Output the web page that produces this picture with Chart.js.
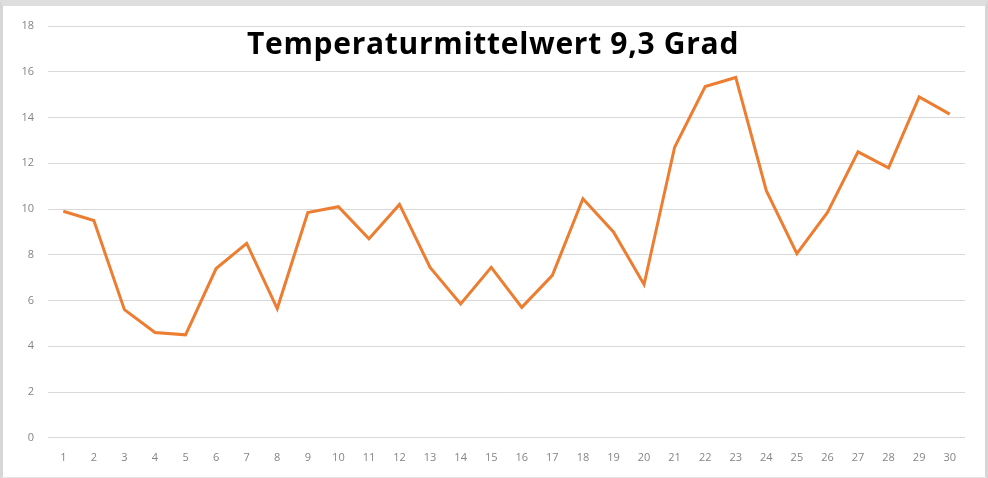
<!DOCTYPE html>
<html>
<head>
<meta charset="utf-8">
<script src="https://cdn.jsdelivr.net/npm/chart.js@4"></script>
<style>
	html, body { margin: 0; padding: 0; background: #fff; }
	#frame {
		position: absolute; left: 0; top: 0;
		width: 982px; height: 471px;
		border-left: 3px solid #d6d6d6;
		border-top: 6px solid #dedede;
		border-right: 3px solid #d6d6d6;
		border-bottom: 1px solid #e6e6e6;
	}
	#wrap { position: absolute; left: 0; top: 0; width: 988px; height: 478px; }
	#title {
		position: absolute; left: 0; width: 986px; top: 22px;
		text-align: center;
		font-family: "Open Sans", sans-serif; font-weight: bold; font-size: 30px;
		letter-spacing: 0.7px;
		color: #000; white-space: nowrap;
	}
</style>
</head>
<body>
<div id="frame"></div>
<div id="wrap"><canvas id="chart" width="988" height="478"></canvas></div>
<div id="title">Temperaturmittelwert 9,3 Grad</div>
<script>
	// Tage 1..30
	const days = [];
	for (let d = 1; d <= 30; d++) days.push(String(d));

	// Tagesmittel in Grad
	const temps = [
		9.9, 9.5, 5.6, 4.6, 4.5, 7.4, 8.5, 5.65, 9.85, 10.1,
		8.7, 10.2, 7.45, 5.85, 7.45, 5.7, 7.1, 10.45, 9.0, 6.7,
		12.7, 15.35, 15.75, 10.8, 8.05, 9.85, 12.5, 11.8, 14.9, 14.15
	];

	const yMin = 0;
	const yMax = 18;
	const yStep = 2;

	const tickFont = { family: "'Open Sans', sans-serif", size: 11 };
	const tickColor = "#858585";

	new Chart(document.getElementById("chart"), {
		type: "line",
		data: {
			labels: days,
			datasets: [{
				label: "Temperatur",
				data: temps,
				borderColor: "#ED7D31",
				borderWidth: 3,
				pointRadius: 0,
				tension: 0,
				fill: false
			}]
		},
		options: {
			responsive: false,
			animation: false,
			devicePixelRatio: 1,
			layout: { padding: { left: 14, right: 23, top: 26, bottom: 1 } },
			plugins: {
				legend: { display: false },
				title: { display: false },
				tooltip: { enabled: false }
			},
			scales: {
				x: {
					offset: true,
					grid: { display: false, drawTicks: false },
					border: { display: false },
					ticks: { color: tickColor, font: tickFont, padding: 13, maxRotation: 0, autoSkip: false }
				},
				y: {
					min: yMin,
					max: yMax,
					afterFit: (s) => { s.width = 34; },
					grid: { color: "#d9d9d9", lineWidth: 1, drawTicks: false },
					border: { display: false },
					ticks: { stepSize: yStep, color: tickColor, font: tickFont, padding: 14 }
				}
			}
		}
	});
</script>
</body>
</html>
